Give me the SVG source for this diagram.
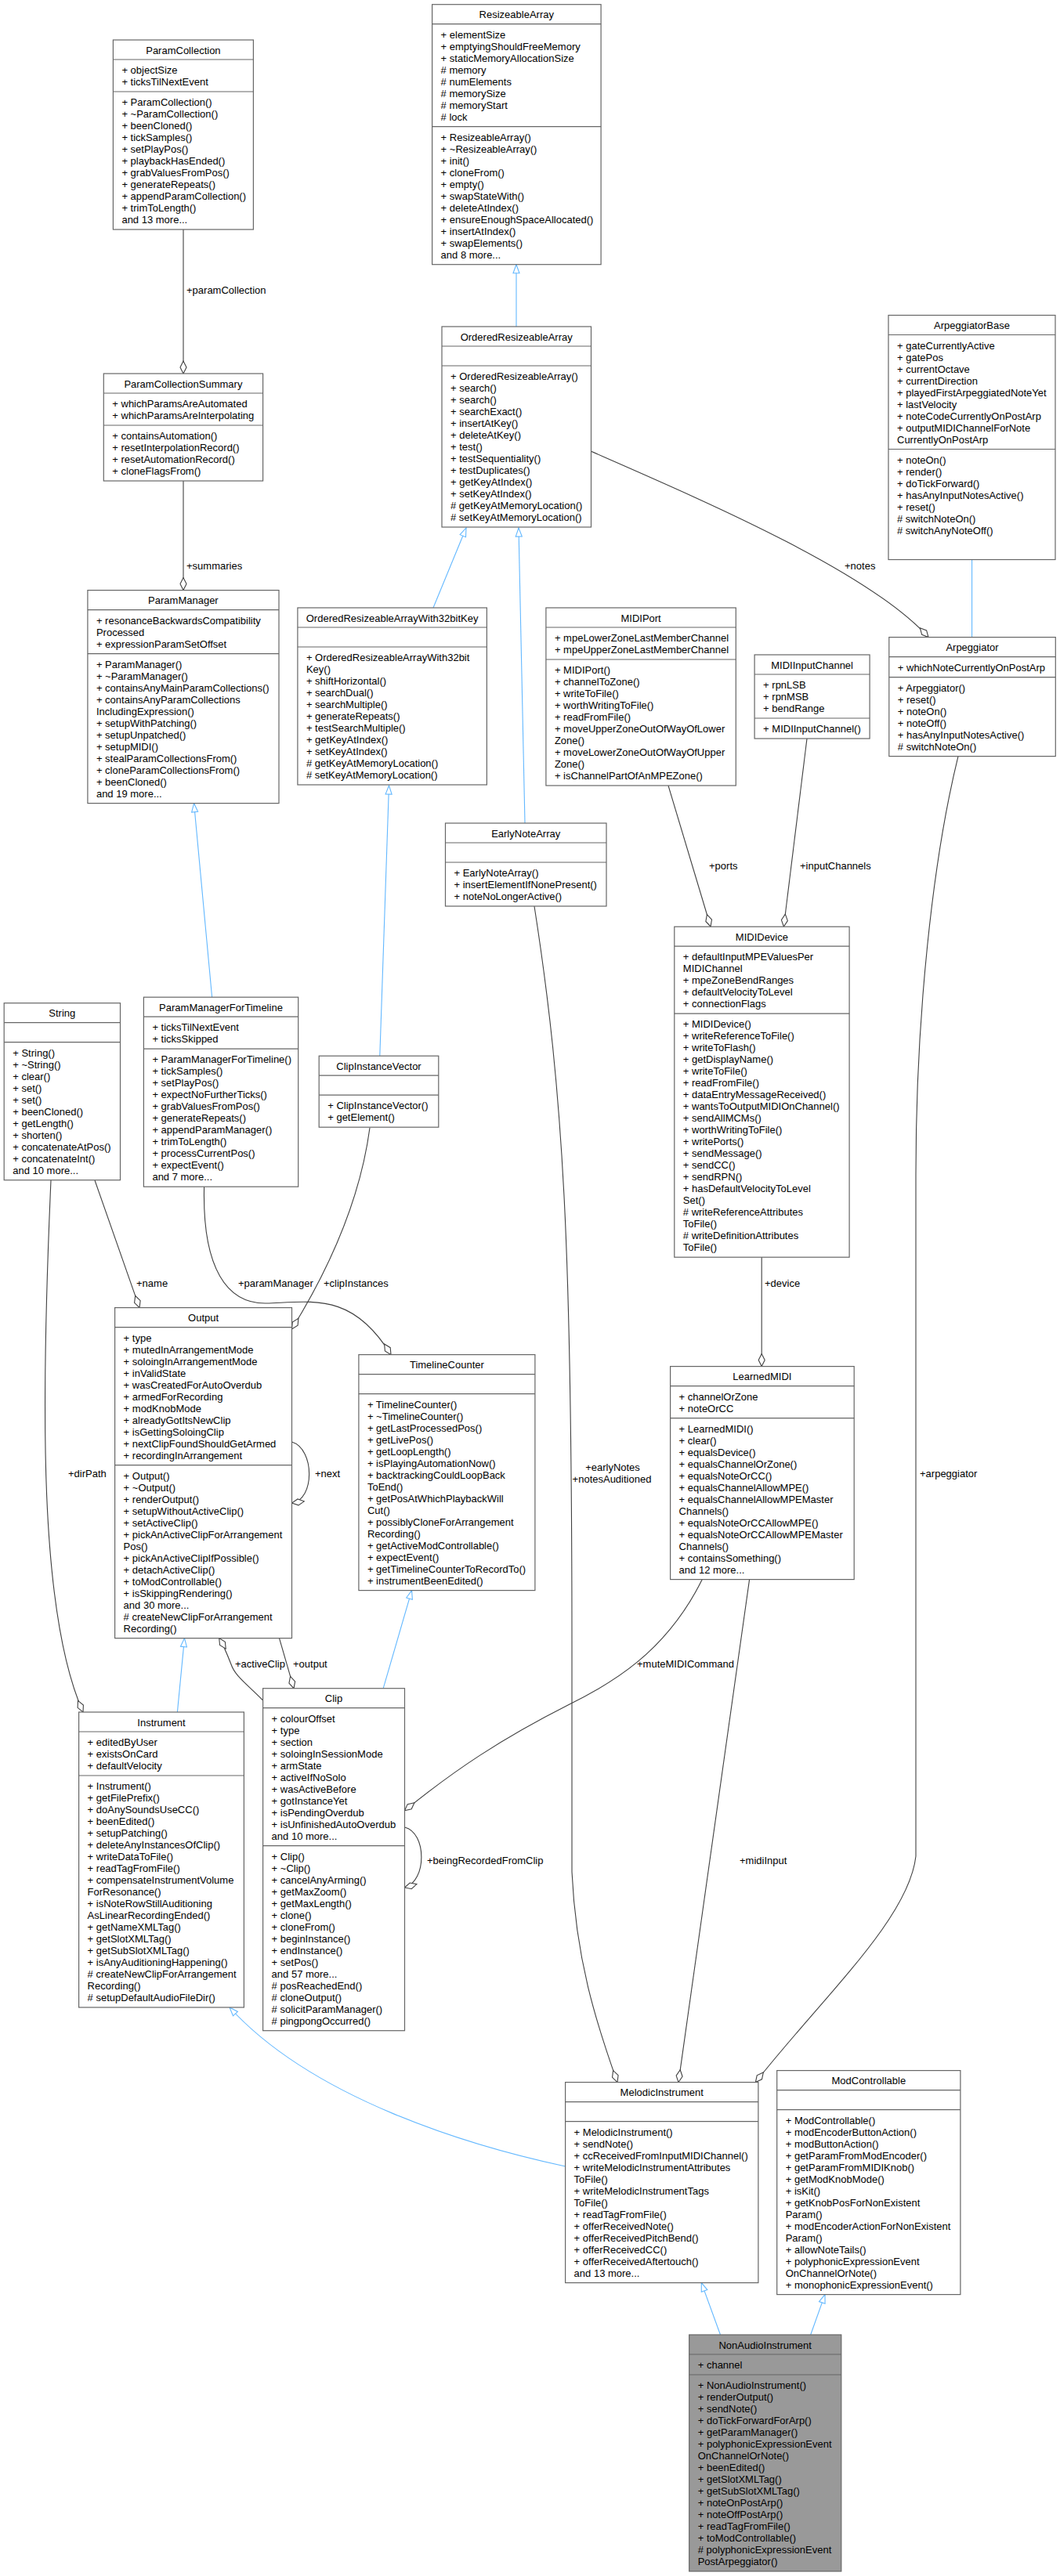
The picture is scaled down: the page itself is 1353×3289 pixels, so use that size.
<svg xmlns="http://www.w3.org/2000/svg" width="1353" height="3289" viewBox="0 0 1353 3289">
<style>
.b{fill:#fff;stroke:#666;stroke-width:1.2}
.g{fill:#999;stroke:#666;stroke-width:1.2}
.s{stroke:#666;stroke-width:1.2}
text{font-family:"Liberation Sans",Arial,sans-serif;font-size:13px;fill:#000}
.c{text-anchor:middle}
.ag{fill:none;stroke:#404040;stroke-width:1.1;marker-end:url(#dia)}
.in{fill:none;stroke:#63b8ff;stroke-width:1.1;marker-end:url(#tri)}
</style>
<defs>
<marker id="dia" markerUnits="userSpaceOnUse" markerWidth="18" markerHeight="10" viewBox="0 0 18 10" refX="17" refY="5" orient="auto"><path d="M1,5 L9,1 L17,5 L9,9 Z" fill="#fff" stroke="#404040" stroke-width="1.1"/></marker>
<marker id="tri" markerUnits="userSpaceOnUse" markerWidth="13" markerHeight="10" viewBox="0 0 13 10" refX="12" refY="5" orient="auto"><path d="M1,1 L12,5 L1,9 Z" fill="#fff" stroke="#63b8ff" stroke-width="1.1"/></marker>
</defs>
<rect width="1353" height="3289" fill="#fff"/>
<g id="edges">
<path class="ag" d="M234,293 L234,477"/><text x="238" y="375">+paramCollection</text>
<path class="ag" d="M234,614 L234,753.6"/><text x="238" y="727">+summaries</text>
<path class="in" d="M659,506.5 L659,337.7"/>
<path class="in" d="M553,776 L595,674"/>
<path class="in" d="M670,1051 L662,674"/>
<path class="ag" d="M754,576 C 900,640 1110,730 1185,813.6"/><text x="1078" y="727">+notes</text>
<path class="in" d="M1240.6,813.6 L1240.6,689.5"/>
<path class="in" d="M270.6,1273 L247.6,1025.7"/>
<path class="in" d="M484.8,1348 L496.5,1003"/>
<path class="ag" d="M853,1003 L907,1183"/><text x="905" y="1110">+ports</text>
<path class="ag" d="M1030,943 L1000.4,1183"/><text x="1021" y="1110">+inputChannels</text>
<path class="ag" d="M972.2,1605 L972.2,1744.6"/><text x="976" y="1643">+device</text>
<path class="ag" d="M121,1507 L178,1669.6"/><text x="174" y="1643">+name</text>
<path class="ag" d="M65,1507 C 52,1800 50,2060 106,2186"/><text x="87" y="1886">+dirPath</text>
<path class="ag" d="M260.6,1515 C 258,1620 290,1665 340,1664 C 400,1662 450,1650 499,1729.6"/><text x="304" y="1643">+paramManager</text>
<path class="ag" d="M472,1440 C 460,1530 420,1620 372.5,1697"/><text x="413" y="1643">+clipInstances</text>
<path class="ag" d="M372.5,1841 C 402,1850 402,1915 372.5,1919"/><text x="402" y="1886">+next</text>
<path class="in" d="M226.4,2186 L235.5,2091.6"/>
<path class="ag" d="M335.6,2171 C 315,2150 300,2140 295,2125 C 290,2112 285,2100 279.7,2091.6"/><text x="300" y="2129">+activeClip</text>
<path class="ag" d="M356.5,2091.6 L375,2155.7"/><text x="374" y="2129">+output</text>
<path class="in" d="M489.2,2155.7 L525.6,2030.6"/>
<path class="ag" d="M516.5,2333 C 545,2340 545,2402 516.5,2410"/><text x="545" y="2380">+beingRecordedFromClip</text>
<path class="ag" d="M896.3,2016.6 C 850,2110 780,2150 725,2177 C 640,2220 580,2260 516.5,2311.8"/><text x="813" y="2129">+muteMIDICommand</text>
<path class="ag" d="M682,1157 C 720,1400 730,1600 730,2100 L 730,2390 C 735,2500 760,2580 788,2658.6"/><text x="782" y="1878" class="c">+earlyNotes</text><text x="781" y="1893" class="c">+notesAuditioned</text>
<path class="ag" d="M956.6,2016.6 L866,2658.6"/><text x="944" y="2380">+midiInput</text>
<path class="ag" d="M1223,965.6 C 1190,1100 1169,1300 1169,1500 L1169,2370 C 1160,2450 1050,2550 964.4,2658.6"/><text x="1174" y="1886">+arpeggiator</text>
<path class="in" d="M721.6,2766 C 600,2740 400,2680 293,2563"/>
<path class="in" d="M919.5,2981 L895.3,2914.6"/>
<path class="in" d="M1034.7,2981 L1053,2929.6"/>
</g>

<g id="ParamCollection" transform="translate(144.4,51)">
<rect class="b" width="179" height="242"/><line class="s" x1="0" y1="25" x2="179" y2="25"/><line class="s" x1="0" y1="66" x2="179" y2="66"/>
<text class="c" x="89.5" y="17.5">ParamCollection</text>
<text x="11" y="43"><tspan x="11">+ objectSize</tspan><tspan x="11" dy="15">+ ticksTilNextEvent</tspan></text>
<text x="11" y="84"><tspan x="11">+ ParamCollection()</tspan><tspan x="11" dy="15">+ ~ParamCollection()</tspan><tspan x="11" dy="15">+ beenCloned()</tspan><tspan x="11" dy="15">+ tickSamples()</tspan><tspan x="11" dy="15">+ setPlayPos()</tspan><tspan x="11" dy="15">+ playbackHasEnded()</tspan><tspan x="11" dy="15">+ grabValuesFromPos()</tspan><tspan x="11" dy="15">+ generateRepeats()</tspan><tspan x="11" dy="15">+ appendParamCollection()</tspan><tspan x="11" dy="15">+ trimToLength()</tspan><tspan x="11" dy="15">and 13 more...</tspan></text>
</g>

<g id="ResizeableArray" transform="translate(551.6,5.7)">
<rect class="b" width="215.5" height="332"/><line class="s" x1="0" y1="25" x2="215.5" y2="25"/><line class="s" x1="0" y1="156" x2="215.5" y2="156"/>
<text class="c" x="107.7" y="17.5">ResizeableArray</text>
<text x="11" y="43"><tspan x="11">+ elementSize</tspan><tspan x="11" dy="15">+ emptyingShouldFreeMemory</tspan><tspan x="11" dy="15">+ staticMemoryAllocationSize</tspan><tspan x="11" dy="15"># memory</tspan><tspan x="11" dy="15"># numElements</tspan><tspan x="11" dy="15"># memorySize</tspan><tspan x="11" dy="15"># memoryStart</tspan><tspan x="11" dy="15"># lock</tspan></text>
<text x="11" y="174"><tspan x="11">+ ResizeableArray()</tspan><tspan x="11" dy="15">+ ~ResizeableArray()</tspan><tspan x="11" dy="15">+ init()</tspan><tspan x="11" dy="15">+ cloneFrom()</tspan><tspan x="11" dy="15">+ empty()</tspan><tspan x="11" dy="15">+ swapStateWith()</tspan><tspan x="11" dy="15">+ deleteAtIndex()</tspan><tspan x="11" dy="15">+ ensureEnoughSpaceAllocated()</tspan><tspan x="11" dy="15">+ insertAtIndex()</tspan><tspan x="11" dy="15">+ swapElements()</tspan><tspan x="11" dy="15">and 8 more...</tspan></text>
</g>

<g id="OrderedResizeableArray" transform="translate(564,417)">
<rect class="b" width="190.5" height="256"/><line class="s" x1="0" y1="25" x2="190.5" y2="25"/><line class="s" x1="0" y1="50" x2="190.5" y2="50"/>
<text class="c" x="95.2" y="17.5">OrderedResizeableArray</text>
<text x="11" y="68"><tspan x="11">+ OrderedResizeableArray()</tspan><tspan x="11" dy="15">+ search()</tspan><tspan x="11" dy="15">+ search()</tspan><tspan x="11" dy="15">+ searchExact()</tspan><tspan x="11" dy="15">+ insertAtKey()</tspan><tspan x="11" dy="15">+ deleteAtKey()</tspan><tspan x="11" dy="15">+ test()</tspan><tspan x="11" dy="15">+ testSequentiality()</tspan><tspan x="11" dy="15">+ testDuplicates()</tspan><tspan x="11" dy="15">+ getKeyAtIndex()</tspan><tspan x="11" dy="15">+ setKeyAtIndex()</tspan><tspan x="11" dy="15"># getKeyAtMemoryLocation()</tspan><tspan x="11" dy="15"># setKeyAtMemoryLocation()</tspan></text>
</g>

<g id="ArpeggiatorBase" transform="translate(1134,402.5)">
<rect class="b" width="213" height="312"/><line class="s" x1="0" y1="25" x2="213" y2="25"/><line class="s" x1="0" y1="171" x2="213" y2="171"/>
<text class="c" x="106.5" y="17.5">ArpeggiatorBase</text>
<text x="11" y="43"><tspan x="11">+ gateCurrentlyActive</tspan><tspan x="11" dy="15">+ gatePos</tspan><tspan x="11" dy="15">+ currentOctave</tspan><tspan x="11" dy="15">+ currentDirection</tspan><tspan x="11" dy="15">+ playedFirstArpeggiatedNoteYet</tspan><tspan x="11" dy="15">+ lastVelocity</tspan><tspan x="11" dy="15">+ noteCodeCurrentlyOnPostArp</tspan><tspan x="11" dy="15">+ outputMIDIChannelForNote</tspan><tspan x="11" dy="15">CurrentlyOnPostArp</tspan></text>
<text x="11" y="189"><tspan x="11">+ noteOn()</tspan><tspan x="11" dy="15">+ render()</tspan><tspan x="11" dy="15">+ doTickForward()</tspan><tspan x="11" dy="15">+ hasAnyInputNotesActive()</tspan><tspan x="11" dy="15">+ reset()</tspan><tspan x="11" dy="15"># switchNoteOn()</tspan><tspan x="11" dy="15"># switchAnyNoteOff()</tspan></text>
</g>

<g id="Arpeggiator" transform="translate(1134.8,813.6)">
<rect class="b" width="212.5" height="152"/><line class="s" x1="0" y1="25" x2="212.5" y2="25"/><line class="s" x1="0" y1="51" x2="212.5" y2="51"/>
<text class="c" x="106.2" y="17.5">Arpeggiator</text>
<text x="11" y="43">+ whichNoteCurrentlyOnPostArp</text>
<text x="11" y="69"><tspan x="11">+ Arpeggiator()</tspan><tspan x="11" dy="15">+ reset()</tspan><tspan x="11" dy="15">+ noteOn()</tspan><tspan x="11" dy="15">+ noteOff()</tspan><tspan x="11" dy="15">+ hasAnyInputNotesActive()</tspan><tspan x="11" dy="15"># switchNoteOn()</tspan></text>
</g>

<g id="MIDIPort" transform="translate(696.9,776)">
<rect class="b" width="242.4" height="227"/><line class="s" x1="0" y1="25" x2="242.4" y2="25"/><line class="s" x1="0" y1="66" x2="242.4" y2="66"/>
<text class="c" x="121.2" y="17.5">MIDIPort</text>
<text x="11" y="43"><tspan x="11">+ mpeLowerZoneLastMemberChannel</tspan><tspan x="11" dy="15">+ mpeUpperZoneLastMemberChannel</tspan></text>
<text x="11" y="84"><tspan x="11">+ MIDIPort()</tspan><tspan x="11" dy="15">+ channelToZone()</tspan><tspan x="11" dy="15">+ writeToFile()</tspan><tspan x="11" dy="15">+ worthWritingToFile()</tspan><tspan x="11" dy="15">+ readFromFile()</tspan><tspan x="11" dy="15">+ moveUpperZoneOutOfWayOfLower</tspan><tspan x="11" dy="15">Zone()</tspan><tspan x="11" dy="15">+ moveLowerZoneOutOfWayOfUpper</tspan><tspan x="11" dy="15">Zone()</tspan><tspan x="11" dy="15">+ isChannelPartOfAnMPEZone()</tspan></text>
</g>

<g id="MIDIInputChannel" transform="translate(963.1,836)">
<rect class="b" width="147" height="107"/><line class="s" x1="0" y1="25" x2="147" y2="25"/><line class="s" x1="0" y1="81" x2="147" y2="81"/>
<text class="c" x="73.5" y="17.5">MIDIInputChannel</text>
<text x="11" y="43"><tspan x="11">+ rpnLSB</tspan><tspan x="11" dy="15">+ rpnMSB</tspan><tspan x="11" dy="15">+ bendRange</tspan></text>
<text x="11" y="99">+ MIDIInputChannel()</text>
</g>

<g id="ParamCollectionSummary" transform="translate(132.3,477)">
<rect class="b" width="203.3" height="137"/><line class="s" x1="0" y1="25" x2="203.3" y2="25"/><line class="s" x1="0" y1="66" x2="203.3" y2="66"/>
<text class="c" x="101.6" y="17.5">ParamCollectionSummary</text>
<text x="11" y="43"><tspan x="11">+ whichParamsAreAutomated</tspan><tspan x="11" dy="15">+ whichParamsAreInterpolating</tspan></text>
<text x="11" y="84"><tspan x="11">+ containsAutomation()</tspan><tspan x="11" dy="15">+ resetInterpolationRecord()</tspan><tspan x="11" dy="15">+ resetAutomationRecord()</tspan><tspan x="11" dy="15">+ cloneFlagsFrom()</tspan></text>
</g>

<g id="ParamManager" transform="translate(111.9,753.6)">
<rect class="b" width="244.1" height="272"/><line class="s" x1="0" y1="25" x2="244.1" y2="25"/><line class="s" x1="0" y1="81" x2="244.1" y2="81"/>
<text class="c" x="122" y="17.5">ParamManager</text>
<text x="11" y="43"><tspan x="11">+ resonanceBackwardsCompatibility</tspan><tspan x="11" dy="15">Processed</tspan><tspan x="11" dy="15">+ expressionParamSetOffset</tspan></text>
<text x="11" y="99"><tspan x="11">+ ParamManager()</tspan><tspan x="11" dy="15">+ ~ParamManager()</tspan><tspan x="11" dy="15">+ containsAnyMainParamCollections()</tspan><tspan x="11" dy="15">+ containsAnyParamCollections</tspan><tspan x="11" dy="15">IncludingExpression()</tspan><tspan x="11" dy="15">+ setupWithPatching()</tspan><tspan x="11" dy="15">+ setupUnpatched()</tspan><tspan x="11" dy="15">+ setupMIDI()</tspan><tspan x="11" dy="15">+ stealParamCollectionsFrom()</tspan><tspan x="11" dy="15">+ cloneParamCollectionsFrom()</tspan><tspan x="11" dy="15">+ beenCloned()</tspan><tspan x="11" dy="15">and 19 more...</tspan></text>
</g>

<g id="OrderedResizeableArrayWith32bitKey" transform="translate(379.9,776)">
<rect class="b" width="241.5" height="226"/><line class="s" x1="0" y1="25" x2="241.5" y2="25"/><line class="s" x1="0" y1="50" x2="241.5" y2="50"/>
<text class="c" x="120.7" y="17.5">OrderedResizeableArrayWith32bitKey</text>
<text x="11" y="68"><tspan x="11">+ OrderedResizeableArrayWith32bit</tspan><tspan x="11" dy="15">Key()</tspan><tspan x="11" dy="15">+ shiftHorizontal()</tspan><tspan x="11" dy="15">+ searchDual()</tspan><tspan x="11" dy="15">+ searchMultiple()</tspan><tspan x="11" dy="15">+ generateRepeats()</tspan><tspan x="11" dy="15">+ testSearchMultiple()</tspan><tspan x="11" dy="15">+ getKeyAtIndex()</tspan><tspan x="11" dy="15">+ setKeyAtIndex()</tspan><tspan x="11" dy="15"># getKeyAtMemoryLocation()</tspan><tspan x="11" dy="15"># setKeyAtMemoryLocation()</tspan></text>
</g>

<g id="EarlyNoteArray" transform="translate(568.5,1051)">
<rect class="b" width="205.5" height="106"/><line class="s" x1="0" y1="25" x2="205.5" y2="25"/><line class="s" x1="0" y1="50" x2="205.5" y2="50"/>
<text class="c" x="102.7" y="17.5">EarlyNoteArray</text>
<text x="11" y="68"><tspan x="11">+ EarlyNoteArray()</tspan><tspan x="11" dy="15">+ insertElementIfNonePresent()</tspan><tspan x="11" dy="15">+ noteNoLongerActive()</tspan></text>
</g>

<g id="String" transform="translate(5.2,1280.7)">
<rect class="b" width="148.3" height="226"/><line class="s" x1="0" y1="25" x2="148.3" y2="25"/><line class="s" x1="0" y1="50" x2="148.3" y2="50"/>
<text class="c" x="74.1" y="17.5">String</text>
<text x="11" y="68"><tspan x="11">+ String()</tspan><tspan x="11" dy="15">+ ~String()</tspan><tspan x="11" dy="15">+ clear()</tspan><tspan x="11" dy="15">+ set()</tspan><tspan x="11" dy="15">+ set()</tspan><tspan x="11" dy="15">+ beenCloned()</tspan><tspan x="11" dy="15">+ getLength()</tspan><tspan x="11" dy="15">+ shorten()</tspan><tspan x="11" dy="15">+ concatenateAtPos()</tspan><tspan x="11" dy="15">+ concatenateInt()</tspan><tspan x="11" dy="15">and 10 more...</tspan></text>
</g>

<g id="ParamManagerForTimeline" transform="translate(183.4,1273.2)">
<rect class="b" width="197.3" height="242"/><line class="s" x1="0" y1="25" x2="197.3" y2="25"/><line class="s" x1="0" y1="66" x2="197.3" y2="66"/>
<text class="c" x="98.6" y="17.5">ParamManagerForTimeline</text>
<text x="11" y="43"><tspan x="11">+ ticksTilNextEvent</tspan><tspan x="11" dy="15">+ ticksSkipped</tspan></text>
<text x="11" y="84"><tspan x="11">+ ParamManagerForTimeline()</tspan><tspan x="11" dy="15">+ tickSamples()</tspan><tspan x="11" dy="15">+ setPlayPos()</tspan><tspan x="11" dy="15">+ expectNoFurtherTicks()</tspan><tspan x="11" dy="15">+ grabValuesFromPos()</tspan><tspan x="11" dy="15">+ generateRepeats()</tspan><tspan x="11" dy="15">+ appendParamManager()</tspan><tspan x="11" dy="15">+ trimToLength()</tspan><tspan x="11" dy="15">+ processCurrentPos()</tspan><tspan x="11" dy="15">+ expectEvent()</tspan><tspan x="11" dy="15">and 7 more...</tspan></text>
</g>

<g id="ClipInstanceVector" transform="translate(407.2,1348.2)">
<rect class="b" width="152.6" height="91"/><line class="s" x1="0" y1="25" x2="152.6" y2="25"/><line class="s" x1="0" y1="50" x2="152.6" y2="50"/>
<text class="c" x="76.3" y="17.5">ClipInstanceVector</text>
<text x="11" y="68"><tspan x="11">+ ClipInstanceVector()</tspan><tspan x="11" dy="15">+ getElement()</tspan></text>
</g>

<g id="MIDIDevice" transform="translate(860.8,1183.2)">
<rect class="b" width="223.3" height="422"/><line class="s" x1="0" y1="25" x2="223.3" y2="25"/><line class="s" x1="0" y1="111" x2="223.3" y2="111"/>
<text class="c" x="111.6" y="17.5">MIDIDevice</text>
<text x="11" y="43"><tspan x="11">+ defaultInputMPEValuesPer</tspan><tspan x="11" dy="15">MIDIChannel</tspan><tspan x="11" dy="15">+ mpeZoneBendRanges</tspan><tspan x="11" dy="15">+ defaultVelocityToLevel</tspan><tspan x="11" dy="15">+ connectionFlags</tspan></text>
<text x="11" y="129"><tspan x="11">+ MIDIDevice()</tspan><tspan x="11" dy="15">+ writeReferenceToFile()</tspan><tspan x="11" dy="15">+ writeToFlash()</tspan><tspan x="11" dy="15">+ getDisplayName()</tspan><tspan x="11" dy="15">+ writeToFile()</tspan><tspan x="11" dy="15">+ readFromFile()</tspan><tspan x="11" dy="15">+ dataEntryMessageReceived()</tspan><tspan x="11" dy="15">+ wantsToOutputMIDIOnChannel()</tspan><tspan x="11" dy="15">+ sendAllMCMs()</tspan><tspan x="11" dy="15">+ worthWritingToFile()</tspan><tspan x="11" dy="15">+ writePorts()</tspan><tspan x="11" dy="15">+ sendMessage()</tspan><tspan x="11" dy="15">+ sendCC()</tspan><tspan x="11" dy="15">+ sendRPN()</tspan><tspan x="11" dy="15">+ hasDefaultVelocityToLevel</tspan><tspan x="11" dy="15">Set()</tspan><tspan x="11" dy="15"># writeReferenceAttributes</tspan><tspan x="11" dy="15">ToFile()</tspan><tspan x="11" dy="15"># writeDefinitionAttributes</tspan><tspan x="11" dy="15">ToFile()</tspan></text>
</g>

<g id="Output" transform="translate(146.6,1669.6)">
<rect class="b" width="225.9" height="422"/><line class="s" x1="0" y1="25" x2="225.9" y2="25"/><line class="s" x1="0" y1="201" x2="225.9" y2="201"/>
<text class="c" x="113" y="17.5">Output</text>
<text x="11" y="43"><tspan x="11">+ type</tspan><tspan x="11" dy="15">+ mutedInArrangementMode</tspan><tspan x="11" dy="15">+ soloingInArrangementMode</tspan><tspan x="11" dy="15">+ inValidState</tspan><tspan x="11" dy="15">+ wasCreatedForAutoOverdub</tspan><tspan x="11" dy="15">+ armedForRecording</tspan><tspan x="11" dy="15">+ modKnobMode</tspan><tspan x="11" dy="15">+ alreadyGotItsNewClip</tspan><tspan x="11" dy="15">+ isGettingSoloingClip</tspan><tspan x="11" dy="15">+ nextClipFoundShouldGetArmed</tspan><tspan x="11" dy="15">+ recordingInArrangement</tspan></text>
<text x="11" y="219"><tspan x="11">+ Output()</tspan><tspan x="11" dy="15">+ ~Output()</tspan><tspan x="11" dy="15">+ renderOutput()</tspan><tspan x="11" dy="15">+ setupWithoutActiveClip()</tspan><tspan x="11" dy="15">+ setActiveClip()</tspan><tspan x="11" dy="15">+ pickAnActiveClipForArrangement</tspan><tspan x="11" dy="15">Pos()</tspan><tspan x="11" dy="15">+ pickAnActiveClipIfPossible()</tspan><tspan x="11" dy="15">+ detachActiveClip()</tspan><tspan x="11" dy="15">+ toModControllable()</tspan><tspan x="11" dy="15">+ isSkippingRendering()</tspan><tspan x="11" dy="15">and 30 more...</tspan><tspan x="11" dy="15"># createNewClipForArrangement</tspan><tspan x="11" dy="15">Recording()</tspan></text>
</g>

<g id="TimelineCounter" transform="translate(457.9,1729.6)">
<rect class="b" width="225" height="301"/><line class="s" x1="0" y1="25" x2="225" y2="25"/><line class="s" x1="0" y1="50" x2="225" y2="50"/>
<text class="c" x="112.5" y="17.5">TimelineCounter</text>
<text x="11" y="68"><tspan x="11">+ TimelineCounter()</tspan><tspan x="11" dy="15">+ ~TimelineCounter()</tspan><tspan x="11" dy="15">+ getLastProcessedPos()</tspan><tspan x="11" dy="15">+ getLivePos()</tspan><tspan x="11" dy="15">+ getLoopLength()</tspan><tspan x="11" dy="15">+ isPlayingAutomationNow()</tspan><tspan x="11" dy="15">+ backtrackingCouldLoopBack</tspan><tspan x="11" dy="15">ToEnd()</tspan><tspan x="11" dy="15">+ getPosAtWhichPlaybackWill</tspan><tspan x="11" dy="15">Cut()</tspan><tspan x="11" dy="15">+ possiblyCloneForArrangement</tspan><tspan x="11" dy="15">Recording()</tspan><tspan x="11" dy="15">+ getActiveModControllable()</tspan><tspan x="11" dy="15">+ expectEvent()</tspan><tspan x="11" dy="15">+ getTimelineCounterToRecordTo()</tspan><tspan x="11" dy="15">+ instrumentBeenEdited()</tspan></text>
</g>

<g id="LearnedMIDI" transform="translate(855.6,1744.6)">
<rect class="b" width="234.6" height="272"/><line class="s" x1="0" y1="25" x2="234.6" y2="25"/><line class="s" x1="0" y1="66" x2="234.6" y2="66"/>
<text class="c" x="117.3" y="17.5">LearnedMIDI</text>
<text x="11" y="43"><tspan x="11">+ channelOrZone</tspan><tspan x="11" dy="15">+ noteOrCC</tspan></text>
<text x="11" y="84"><tspan x="11">+ LearnedMIDI()</tspan><tspan x="11" dy="15">+ clear()</tspan><tspan x="11" dy="15">+ equalsDevice()</tspan><tspan x="11" dy="15">+ equalsChannelOrZone()</tspan><tspan x="11" dy="15">+ equalsNoteOrCC()</tspan><tspan x="11" dy="15">+ equalsChannelAllowMPE()</tspan><tspan x="11" dy="15">+ equalsChannelAllowMPEMaster</tspan><tspan x="11" dy="15">Channels()</tspan><tspan x="11" dy="15">+ equalsNoteOrCCAllowMPE()</tspan><tspan x="11" dy="15">+ equalsNoteOrCCAllowMPEMaster</tspan><tspan x="11" dy="15">Channels()</tspan><tspan x="11" dy="15">+ containsSomething()</tspan><tspan x="11" dy="15">and 12 more...</tspan></text>
</g>

<g id="Clip" transform="translate(335.6,2155.7)">
<rect class="b" width="180.9" height="437"/><line class="s" x1="0" y1="25" x2="180.9" y2="25"/><line class="s" x1="0" y1="201" x2="180.9" y2="201"/>
<text class="c" x="90.4" y="17.5">Clip</text>
<text x="11" y="43"><tspan x="11">+ colourOffset</tspan><tspan x="11" dy="15">+ type</tspan><tspan x="11" dy="15">+ section</tspan><tspan x="11" dy="15">+ soloingInSessionMode</tspan><tspan x="11" dy="15">+ armState</tspan><tspan x="11" dy="15">+ activeIfNoSolo</tspan><tspan x="11" dy="15">+ wasActiveBefore</tspan><tspan x="11" dy="15">+ gotInstanceYet</tspan><tspan x="11" dy="15">+ isPendingOverdub</tspan><tspan x="11" dy="15">+ isUnfinishedAutoOverdub</tspan><tspan x="11" dy="15">and 10 more...</tspan></text>
<text x="11" y="219"><tspan x="11">+ Clip()</tspan><tspan x="11" dy="15">+ ~Clip()</tspan><tspan x="11" dy="15">+ cancelAnyArming()</tspan><tspan x="11" dy="15">+ getMaxZoom()</tspan><tspan x="11" dy="15">+ getMaxLength()</tspan><tspan x="11" dy="15">+ clone()</tspan><tspan x="11" dy="15">+ cloneFrom()</tspan><tspan x="11" dy="15">+ beginInstance()</tspan><tspan x="11" dy="15">+ endInstance()</tspan><tspan x="11" dy="15">+ setPos()</tspan><tspan x="11" dy="15">and 57 more...</tspan><tspan x="11" dy="15"># posReachedEnd()</tspan><tspan x="11" dy="15"># cloneOutput()</tspan><tspan x="11" dy="15"># solicitParamManager()</tspan><tspan x="11" dy="15"># pingpongOccurred()</tspan></text>
</g>

<g id="Instrument" transform="translate(100.6,2186)">
<rect class="b" width="210.8" height="377"/><line class="s" x1="0" y1="25" x2="210.8" y2="25"/><line class="s" x1="0" y1="81" x2="210.8" y2="81"/>
<text class="c" x="105.4" y="17.5">Instrument</text>
<text x="11" y="43"><tspan x="11">+ editedByUser</tspan><tspan x="11" dy="15">+ existsOnCard</tspan><tspan x="11" dy="15">+ defaultVelocity</tspan></text>
<text x="11" y="99"><tspan x="11">+ Instrument()</tspan><tspan x="11" dy="15">+ getFilePrefix()</tspan><tspan x="11" dy="15">+ doAnySoundsUseCC()</tspan><tspan x="11" dy="15">+ beenEdited()</tspan><tspan x="11" dy="15">+ setupPatching()</tspan><tspan x="11" dy="15">+ deleteAnyInstancesOfClip()</tspan><tspan x="11" dy="15">+ writeDataToFile()</tspan><tspan x="11" dy="15">+ readTagFromFile()</tspan><tspan x="11" dy="15">+ compensateInstrumentVolume</tspan><tspan x="11" dy="15">ForResonance()</tspan><tspan x="11" dy="15">+ isNoteRowStillAuditioning</tspan><tspan x="11" dy="15">AsLinearRecordingEnded()</tspan><tspan x="11" dy="15">+ getNameXMLTag()</tspan><tspan x="11" dy="15">+ getSlotXMLTag()</tspan><tspan x="11" dy="15">+ getSubSlotXMLTag()</tspan><tspan x="11" dy="15">+ isAnyAuditioningHappening()</tspan><tspan x="11" dy="15"># createNewClipForArrangement</tspan><tspan x="11" dy="15">Recording()</tspan><tspan x="11" dy="15"># setupDefaultAudioFileDir()</tspan></text>
</g>

<g id="MelodicInstrument" transform="translate(721.6,2658.6)">
<rect class="b" width="246.3" height="256"/><line class="s" x1="0" y1="25" x2="246.3" y2="25"/><line class="s" x1="0" y1="50" x2="246.3" y2="50"/>
<text class="c" x="123.1" y="17.5">MelodicInstrument</text>
<text x="11" y="68"><tspan x="11">+ MelodicInstrument()</tspan><tspan x="11" dy="15">+ sendNote()</tspan><tspan x="11" dy="15">+ ccReceivedFromInputMIDIChannel()</tspan><tspan x="11" dy="15">+ writeMelodicInstrumentAttributes</tspan><tspan x="11" dy="15">ToFile()</tspan><tspan x="11" dy="15">+ writeMelodicInstrumentTags</tspan><tspan x="11" dy="15">ToFile()</tspan><tspan x="11" dy="15">+ readTagFromFile()</tspan><tspan x="11" dy="15">+ offerReceivedNote()</tspan><tspan x="11" dy="15">+ offerReceivedPitchBend()</tspan><tspan x="11" dy="15">+ offerReceivedCC()</tspan><tspan x="11" dy="15">+ offerReceivedAftertouch()</tspan><tspan x="11" dy="15">and 13 more...</tspan></text>
</g>

<g id="ModControllable" transform="translate(991.7,2643.6)">
<rect class="b" width="234.2" height="286"/><line class="s" x1="0" y1="25" x2="234.2" y2="25"/><line class="s" x1="0" y1="50" x2="234.2" y2="50"/>
<text class="c" x="117.1" y="17.5">ModControllable</text>
<text x="11" y="68"><tspan x="11">+ ModControllable()</tspan><tspan x="11" dy="15">+ modEncoderButtonAction()</tspan><tspan x="11" dy="15">+ modButtonAction()</tspan><tspan x="11" dy="15">+ getParamFromModEncoder()</tspan><tspan x="11" dy="15">+ getParamFromMIDIKnob()</tspan><tspan x="11" dy="15">+ getModKnobMode()</tspan><tspan x="11" dy="15">+ isKit()</tspan><tspan x="11" dy="15">+ getKnobPosForNonExistent</tspan><tspan x="11" dy="15">Param()</tspan><tspan x="11" dy="15">+ modEncoderActionForNonExistent</tspan><tspan x="11" dy="15">Param()</tspan><tspan x="11" dy="15">+ allowNoteTails()</tspan><tspan x="11" dy="15">+ polyphonicExpressionEvent</tspan><tspan x="11" dy="15">OnChannelOrNote()</tspan><tspan x="11" dy="15">+ monophonicExpressionEvent()</tspan></text>
</g>

<g id="NonAudioInstrument" transform="translate(879.7,2981)">
<rect class="g" width="194.1" height="302"/><line class="s" x1="0" y1="25" x2="194.1" y2="25"/><line class="s" x1="0" y1="51" x2="194.1" y2="51"/>
<text class="c" x="97" y="17.5">NonAudioInstrument</text>
<text x="11" y="43">+ channel</text>
<text x="11" y="69"><tspan x="11">+ NonAudioInstrument()</tspan><tspan x="11" dy="15">+ renderOutput()</tspan><tspan x="11" dy="15">+ sendNote()</tspan><tspan x="11" dy="15">+ doTickForwardForArp()</tspan><tspan x="11" dy="15">+ getParamManager()</tspan><tspan x="11" dy="15">+ polyphonicExpressionEvent</tspan><tspan x="11" dy="15">OnChannelOrNote()</tspan><tspan x="11" dy="15">+ beenEdited()</tspan><tspan x="11" dy="15">+ getSlotXMLTag()</tspan><tspan x="11" dy="15">+ getSubSlotXMLTag()</tspan><tspan x="11" dy="15">+ noteOnPostArp()</tspan><tspan x="11" dy="15">+ noteOffPostArp()</tspan><tspan x="11" dy="15">+ readTagFromFile()</tspan><tspan x="11" dy="15">+ toModControllable()</tspan><tspan x="11" dy="15"># polyphonicExpressionEvent</tspan><tspan x="11" dy="15">PostArpeggiator()</tspan></text>
</g>
</svg>
